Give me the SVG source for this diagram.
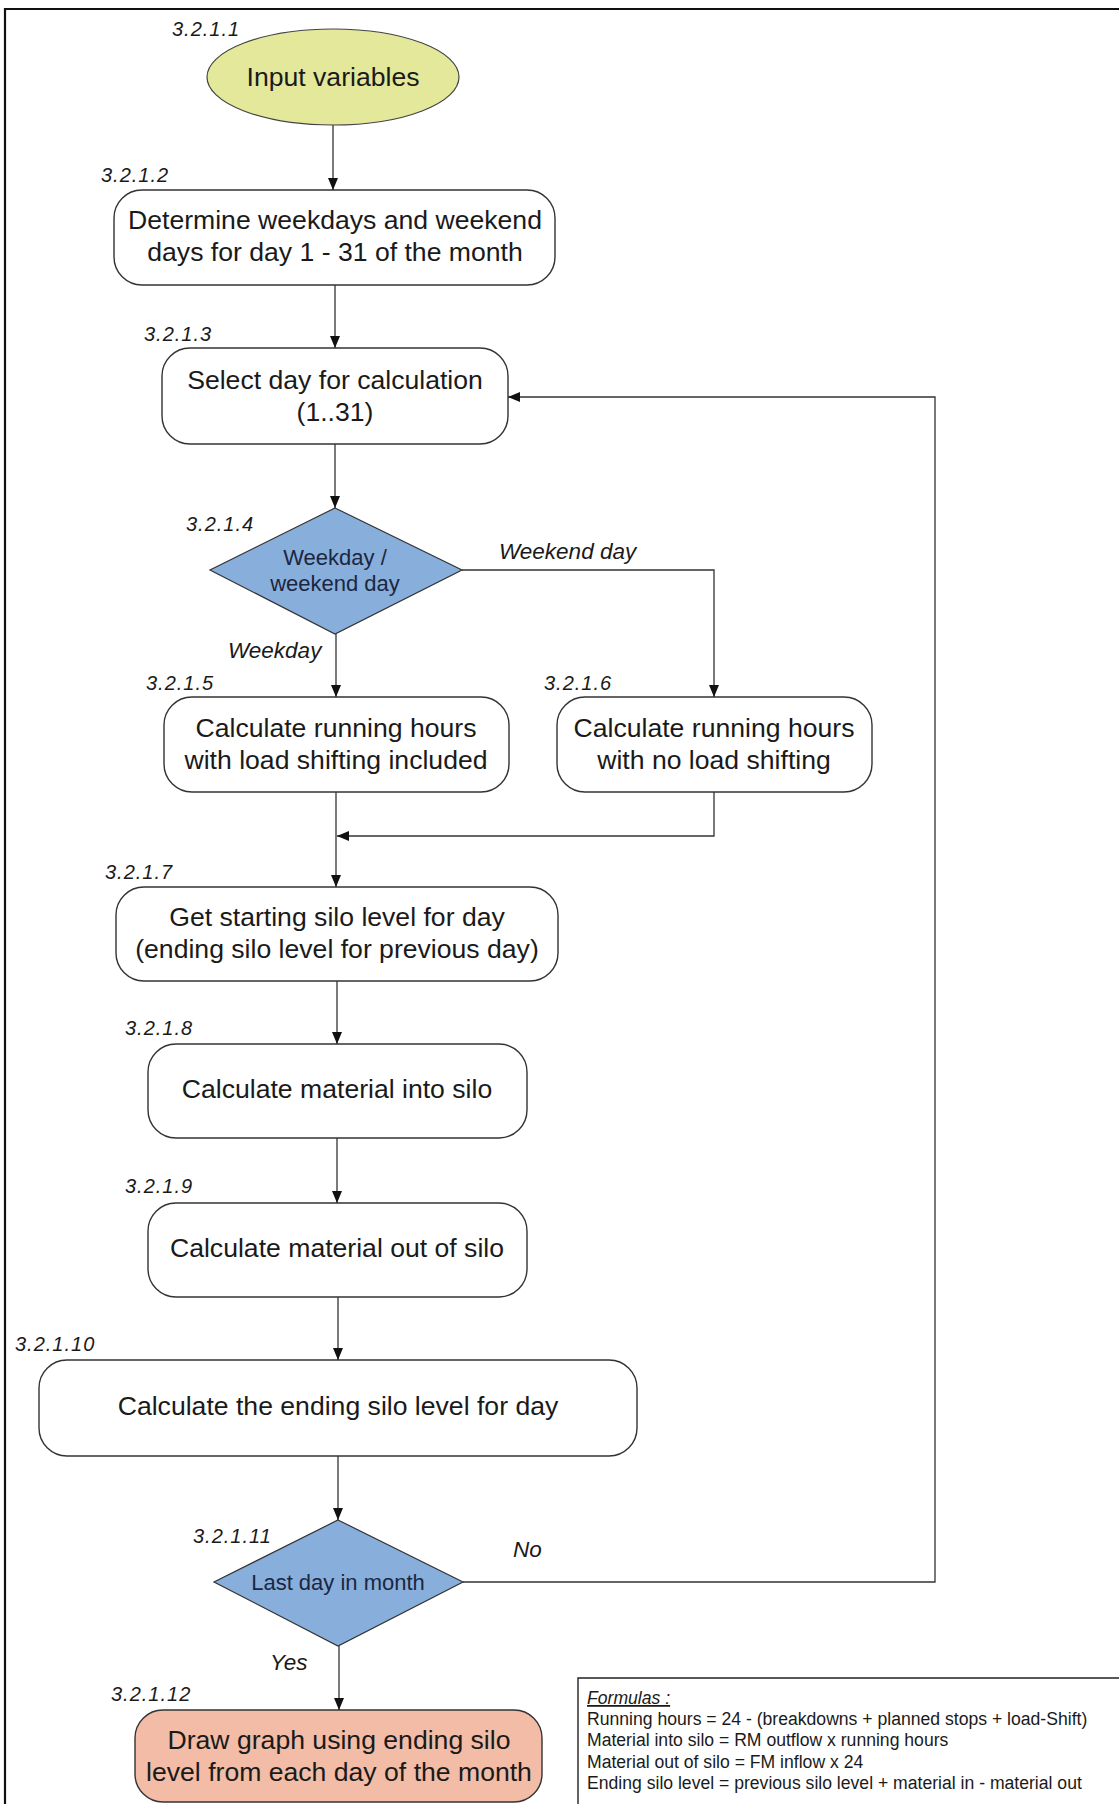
<svg xmlns="http://www.w3.org/2000/svg" width="1119" height="1804" viewBox="0 0 1119 1804">
<defs>
<marker id="arr" markerWidth="12" markerHeight="10" refX="12" refY="5" orient="auto" markerUnits="userSpaceOnUse">
<path d="M0,0 L12,5 L0,10 z" fill="#111"/>
</marker>
<style>
.node{fill:#fff;stroke:#333;stroke-width:1.4}
.dec{fill:#88aedb;stroke:#333;stroke-width:1.2}
.t{font-family:"Liberation Sans",Arial,sans-serif;font-size:26.6px;fill:#1a1a1a;text-anchor:middle}
.td{font-family:"Liberation Sans",Arial,sans-serif;font-size:22px;fill:#1b2740;text-anchor:middle}
.lbl{font-family:"Liberation Sans",Arial,sans-serif;font-size:20px;font-style:italic;fill:#1a1a1a;letter-spacing:1px}
.el{font-family:"Liberation Sans",Arial,sans-serif;font-size:22.5px;font-style:italic;fill:#1a1a1a}
.conn path{fill:none;stroke:#333;stroke-width:1.3}
.f{font-family:"Liberation Sans",Arial,sans-serif;font-size:17.6px;fill:#1a1a1a}
</style>
</defs>
<rect width="1119" height="1804" fill="#fff"/>
<g id="frame">
<path d="M5,1804 V9 H1119" fill="none" stroke="#111" stroke-width="2.2"/>
</g>
<g id="n1">
<ellipse cx="333" cy="77" rx="126" ry="48" fill="#e3e89b" stroke="#444" stroke-width="1.2"/>
<text class="t" x="333" y="86">Input variables</text>
<text class="lbl" x="172" y="36">3.2.1.1</text>
</g>
<g id="n2">
<rect class="node" x="114" y="190" width="441" height="95" rx="28"/>
<text class="t" x="335" y="229">Determine weekdays and weekend</text>
<text class="t" x="335" y="261">days for day 1 - 31 of the month</text>
<text class="lbl" x="101" y="182">3.2.1.2</text>
</g>
<g id="n3">
<rect class="node" x="162" y="348" width="346" height="96" rx="28"/>
<text class="t" x="335" y="389">Select day for calculation</text>
<text class="t" x="335" y="421">(1..31)</text>
<text class="lbl" x="144" y="341">3.2.1.3</text>
</g>
<g id="n4">
<polygon class="dec" points="335,508 462,570 335,634 210,570"/>
<text class="td" x="335" y="565">Weekday /</text>
<text class="td" x="335" y="591">weekend day</text>
<text class="lbl" x="186" y="531">3.2.1.4</text>
</g>
<g id="n5">
<rect class="node" x="164" y="697" width="345" height="95" rx="28"/>
<text class="t" x="336" y="737">Calculate running hours</text>
<text class="t" x="336" y="769">with load shifting included</text>
<text class="lbl" x="146" y="690">3.2.1.5</text>
</g>
<g id="n6">
<rect class="node" x="557" y="697" width="315" height="95" rx="28"/>
<text class="t" x="714" y="737">Calculate running hours</text>
<text class="t" x="714" y="769">with no load shifting</text>
<text class="lbl" x="544" y="690">3.2.1.6</text>
</g>
<g id="n7">
<rect class="node" x="116" y="887" width="442" height="94" rx="28"/>
<text class="t" x="337" y="926">Get starting silo level for day</text>
<text class="t" x="337" y="958">(ending silo level for previous day)</text>
<text class="lbl" x="105" y="879">3.2.1.7</text>
</g>
<g id="n8">
<rect class="node" x="148" y="1044" width="379" height="94" rx="28"/>
<text class="t" x="337" y="1098">Calculate material into silo</text>
<text class="lbl" x="125" y="1035">3.2.1.8</text>
</g>
<g id="n9">
<rect class="node" x="148" y="1203" width="379" height="94" rx="28"/>
<text class="t" x="337" y="1257">Calculate material out of silo</text>
<text class="lbl" x="125" y="1193">3.2.1.9</text>
</g>
<g id="n10">
<rect class="node" x="39" y="1360" width="598" height="96" rx="28"/>
<text class="t" x="338" y="1415">Calculate the ending silo level for day</text>
<text class="lbl" x="15" y="1351">3.2.1.10</text>
</g>
<g id="n11">
<polygon class="dec" points="338,1520 463,1582 338,1646 214,1582"/>
<text class="td" x="338" y="1590">Last day in month</text>
<text class="lbl" x="193" y="1543">3.2.1.11</text>
</g>
<g id="n12">
<rect x="135" y="1710" width="407" height="92" rx="28" fill="#f2bca6" stroke="#333" stroke-width="1.4"/>
<text class="t" x="339" y="1749">Draw graph using ending silo</text>
<text class="t" x="339" y="1781">level from each day of the month</text>
<text class="lbl" x="111" y="1701">3.2.1.12</text>
</g>
<g id="formulas">
<path d="M578,1804 V1678 H1119" fill="none" stroke="#222" stroke-width="1.4"/>
<text class="f" x="587" y="1704" font-style="italic" text-decoration="underline">Formulas :</text>
<text class="f" x="587" y="1725">Running hours = 24 - (breakdowns + planned stops + load-Shift)</text>
<text class="f" x="587" y="1746">Material into silo = RM outflow x running hours</text>
<text class="f" x="587" y="1768">Material out of silo = FM inflow x 24</text>
<text class="f" x="587" y="1789">Ending silo level = previous silo level + material in - material out</text>
</g>
<g id="connectors" class="conn">
<path d="M333,125 V190" marker-end="url(#arr)"/>
<path d="M335,285 V348" marker-end="url(#arr)"/>
<path d="M335,444 V508" marker-end="url(#arr)"/>
<path d="M336,634 V697" marker-end="url(#arr)"/>
<path d="M462,570 H714 V697" marker-end="url(#arr)"/>
<path d="M336,792 V887" marker-end="url(#arr)"/>
<path d="M714,792 V836 H337" marker-end="url(#arr)"/>
<path d="M337,981 V1044" marker-end="url(#arr)"/>
<path d="M337,1138 V1203" marker-end="url(#arr)"/>
<path d="M338,1297 V1360" marker-end="url(#arr)"/>
<path d="M338,1456 V1520" marker-end="url(#arr)"/>
<path d="M339,1646 V1710" marker-end="url(#arr)"/>
<path d="M463,1582 H935 V397 H508" marker-end="url(#arr)"/>
<text class="el" x="499" y="559">Weekend day</text>
<text class="el" x="228" y="658">Weekday</text>
<text class="el" x="513" y="1557">No</text>
<text class="el" x="270" y="1670">Yes</text>
</g>
</svg>
